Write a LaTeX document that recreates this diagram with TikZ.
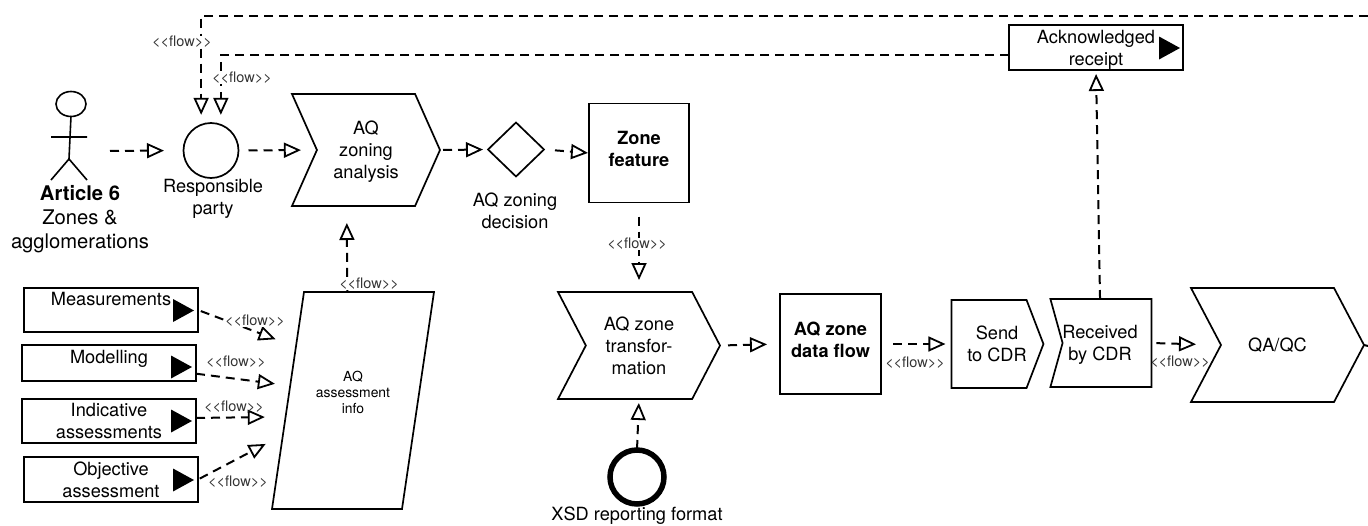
\documentclass[tikz,border=0pt]{standalone}
\usepackage{fontspec}
\setmainfont{TeX Gyre Heros}
\usetikzlibrary{arrows.meta,shapes.geometric,shapes.symbols}

\tikzset{
	txt/.style={font=\fontsize{18.2}{22}\selectfont,align=center,inner sep=0pt},
	shp/.style={draw,line width=1.7pt,inner sep=0pt,outer sep=0pt,txt},
	chevron/.style={shp,signal,signal from=west,signal to=east},
	square/.style={shp,rectangle,minimum width=100pt,minimum height=99pt,text depth=9pt},
	srcbox/.style={shp,rectangle,minimum width=174pt},
	playtri/.style={isosceles triangle,isosceles triangle stretches,fill=black,inner sep=0pt,outer sep=0pt,minimum width=23pt,minimum height=21pt,anchor=apex},
	flow/.style={dash pattern=on 9pt off 6pt,line width=2pt,-{Triangle[open,length=17pt,width=15pt,fill=white,line width=1.8pt]}},
	flowlabel/.style={font=\fontsize{14.5}{15}\selectfont,text=black!80,inner sep=0pt}
}

\begin{document}
\begin{tikzpicture}[x=1pt,y=-1pt]

\useasboundingbox (0,0) rectangle (1368,525);

% The actor
\draw[line width=1.6pt] (71,104) ellipse (15pt and 12.5pt);
\draw[line width=1.6pt] (71,116) -- (69,159) (51,137) -- (87,137) (51,180) -- (69,159) -- (87,180);
\coordinate (actor) at (87,151);
\node[txt,font=\fontsize{20.2}{24}\selectfont] (article) at (80,219) {\textbf{Article 6}\\Zones \&\\agglomerations};

% The top row
\node[shp,circle,minimum size=55pt] (party) at (211,150.5) {};
\node[txt] (partytext) at (213,198.5) {Responsible\\party};
\node[chevron,signal pointer angle=132,minimum width=148pt,minimum height=112pt,text depth=-2pt] (zoning) at (366,150) {AQ\\zoning\\analysis};
\node[shp,diamond,aspect=1,minimum width=56pt,minimum height=54pt] (decision) at (516,149.5) {};
\node[txt] (decisiontext) at (515,211) {AQ zoning\\decision};
\node[square] (zone) at (639,153) {\textbf{Zone}\\\textbf{feature}};
\node[shp,rectangle,minimum width=174pt,minimum height=45pt,text depth=0pt] (ack) at (1096,47.5) {Acknowledged\\receipt};
\node[playtri] (acktri) at (1180,48) {};

% The middle row
\node[chevron,signal pointer angle=125,minimum width=162pt,minimum height=107pt] (trans) at (639,345.5) {AQ zone\\transfor-\\mation};
\node[square,minimum width=101pt,minimum height=100pt] (data) at (830.5,344) {\textbf{AQ zone}\\\textbf{data flow}};
\node[shp,signal,signal to=east,signal pointer angle=138,minimum width=92pt,minimum height=88pt] (send) at (989,344) {};
\node[txt] (sendtext) at (997,344) {Send\\to CDR};
\node[shp,signal,signal to=nowhere,signal from=west,signal pointer angle=149,minimum width=101pt,minimum height=88pt] (received) at (1107,343) {};
\node[txt] (receivedtext) at (1100,345) {Received\\by CDR};
\node[chevron,signal pointer angle=124.5,minimum width=173pt,minimum height=114pt] (qaqc) at (1277.5,345) {QA/QC};
\node[shp,circle,line width=5.5pt,minimum size=54pt] (xsd) at (637,477) {};
\node[txt] (xsdtext) at (637,516) {XSD reporting format};
\coordinate (rightout) at (1368,346);
\coordinate (topout) at (1368,15.5);

% The assessment sources
\draw[line width=1.7pt,line join=miter] (304,292) -- (434,292) -- (402,509) -- (272,509) -- cycle;
\node[txt,minimum width=130pt,minimum height=217pt,font=\fontsize{13.9}{16}\selectfont,text depth=16pt] (assess) at (353,400.5) {AQ\\assessment\\info};
\foreach \nm/\cx/\cy/\hh/\ty/\lbl in {meas/111/310/44/310.5/{Measurements\\~},model/109/363/36/367/{Modelling\\[-10pt]~},indic/109/421/44/421/{Indicative\\assessments},object/111/479.5/45/480/{Objective\\assessment}}
{
	\node[srcbox,minimum height=\hh pt] (\nm) at (\cx,\cy) {\lbl};
	\node[playtri] (\nm tri) at (\cx+83,\ty) {};
}

% The flows
\draw[flow,shorten <=23pt,shorten >=19.5pt] (actor) -- (party.west);
\draw[flow,shorten <=10pt,shorten >=16pt] (party.east) -- (zoning.west);
\draw[flow,shorten <=3pt,shorten >=5pt] (zoning.east) -- (decision.west);
\draw[flow,shorten <=11pt,shorten >=1pt] (decision.east) -- (zone.west);
\draw[flow,shorten <=14pt,shorten >=12pt] (zone.south) -- (trans.north);
\draw[flow,shorten <=8pt,shorten >=13pt] (trans.east) -- (data.west);
\draw[flow,shorten <=12pt,shorten >=6pt] (data.east) -- (send.west);
\draw[flow,shorten <=5pt,shorten >=25pt] (received.east) -- (qaqc.west);
\draw[flow,shorten >=4pt] (received.99) -- (ack.south);
\draw[flow,shorten <=1pt,shorten >=4pt] (xsd.north) -- (trans.south);
\draw[flow,shorten >=17pt] (assess.93) -- (zoning.251);
\draw[flow,-] (qaqc.east) -- (rightout);
\draw[flow,shorten >=10pt] (ack.185) -| (party.69);
\draw[flow,shorten >=10pt] (topout) -| (party.111);
\draw[flow,shorten <=3pt,shorten >=13pt] (meas.east) -- (assess.139.8);
\draw[flow,shorten >=13pt] (model.-7) -- (assess.167.1);
\draw[flow,shorten >=23pt] (indic.2) -- (assess.194);
\draw[flow,shorten <=2pt,shorten >=25pt] (object.east) -- (assess.206.4);

% The thin labels
\node[flowlabel,fill=white] (flowtop) at (182,42) {<{}<flow>{}>};
\node[flowlabel,fill=white] (flowack) at (242,78) {<{}<flow>{}>};
\node[flowlabel,fill=white] (flowzone) at (637,244) {<{}<flow>{}>};
\node[flowlabel,fill=white] (flowassess) at (369,284) {<{}<flow>{}>};
\node[flowlabel,fill=white] (flowmeas) at (255,321) {<{}<flow>{}>};
\node[flowlabel] (flowmodel) at (236,362) {<{}<flow>{}>};
\node[flowlabel] (flowindic) at (234,407) {<{}<flow>{}>};
\node[flowlabel] (flowobject) at (238,482) {<{}<flow>{}>};
\node[flowlabel] (flowdata) at (915,363) {<{}<flow>{}>};
\node[flowlabel] (flowrec) at (1180,362) {<{}<flow>{}>};

\end{tikzpicture}
\end{document}
